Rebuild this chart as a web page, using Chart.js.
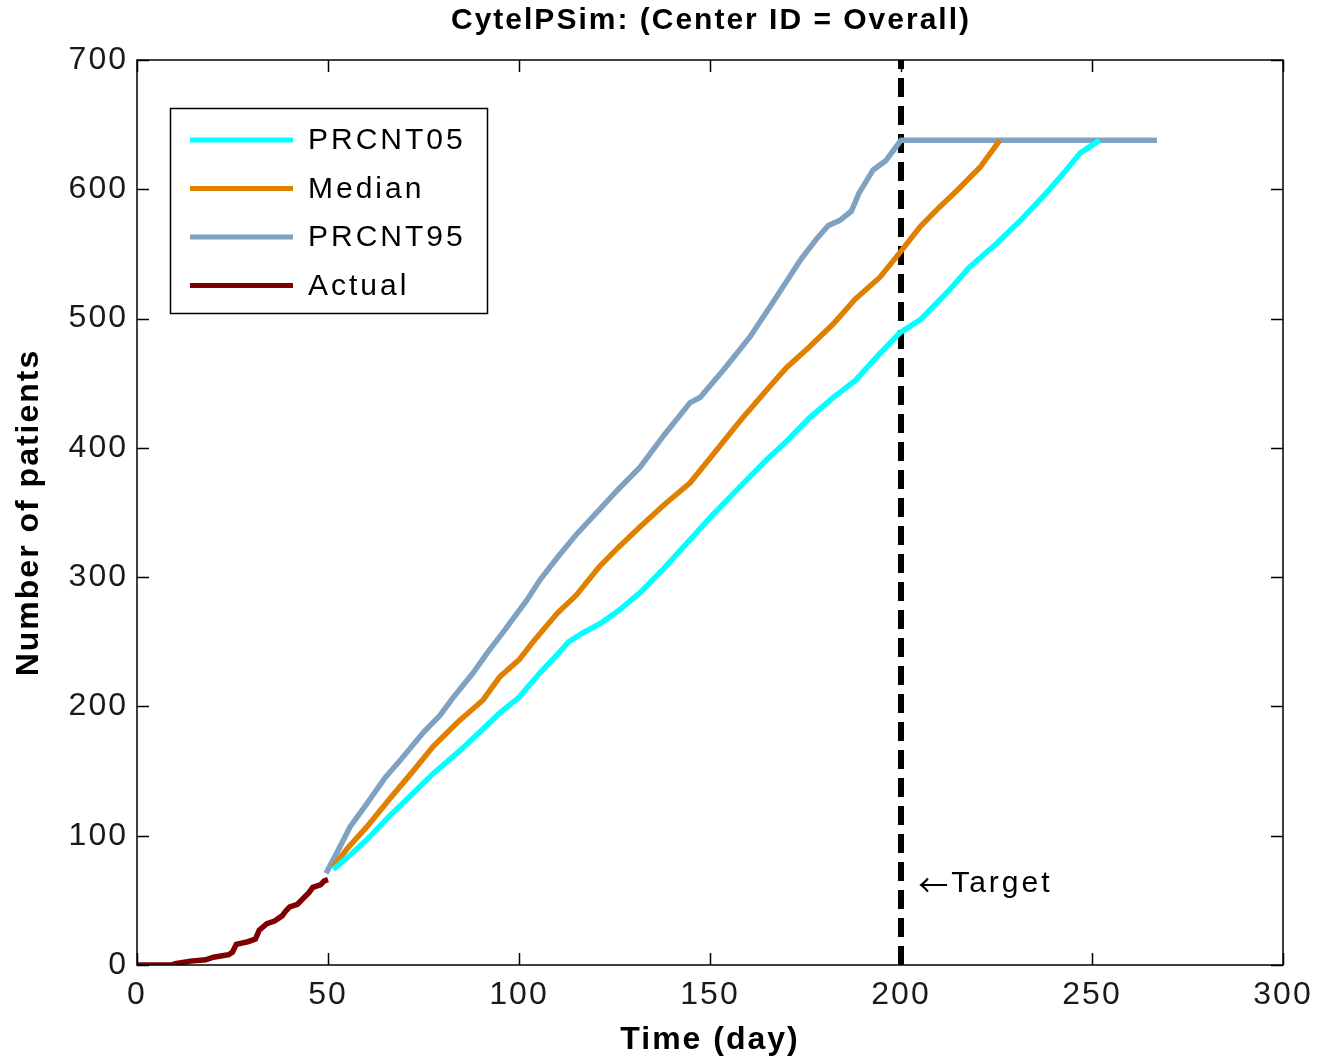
<!DOCTYPE html>
<html><head><meta charset="utf-8">
<script src="https://cdn.jsdelivr.net/npm/chart.js@4/dist/chart.umd.min.js"></script>
<style>html,body{margin:0;padding:0;background:#fff;}canvas{display:block;}</style>
</head><body>
<canvas id="c" width="1320" height="1062"></canvas>
<script>
// ---- text ----
const chartTitle = 'CytelPSim: (Center ID = Overall)';
const xAxisTitle = 'Time (day)';
const yAxisTitle = 'Number of patients';
const targetArrow = '\u2190';
const targetLabel = 'Target';

// ---- ticks ----
const xTickValues = [0, 50, 100, 150, 200, 250, 300];
const yTickValues = [0, 100, 200, 300, 400, 500, 600, 700];

// ---- target ----
const targetDay = 200;
const targetLabelPos = [204.5, 63];

// ---- series ----
const seriesNames = ['PRCNT05', 'Median', 'PRCNT95', 'Actual'];

const p05Days = [51.4,55,60.2,66,72,77.5,84.6,90,95,100,105.5,110,113,116.8,121.2,126,131.7,138,144.8,150,157.9,164.9,170,176,182.3,188,194.5,199.7,205,212,218,225,231,238,243,246.9,252];
const p05Vals = [74,83,97,115,132,148,166,181,195,207,226,240,250,257,264,274,288,307,329,346,370,391,405,423,439,452,473,489,499,520,540,558,575,597,614,628,638];

const medDays = [51.4,55,60.2,66,72,77.5,84,90.6,95,100,103.7,110,115,121,126,131.7,138,144.8,150,157.9,164.9,170,176,182.3,188,194.5,199.7,205,210,215,220.7,225.9];
const medVals = [76,90,107,128,149,169,188,205,223,236,250,272,286,308,323,339,356,373,392,421,445,462,478,496,515,532,551,571,586,600,617,638];

const p95Days = [49.5,52,55.8,60,65,68.8,75,79.3,82.8,88,91.6,96,102,105.5,110,115,121,126,131.7,138,144.8,147.4,154,160.5,167,173.6,178,181,184,187,189,192.7,196,198,200,267];
const p95Vals = [71,85,107,124,145,158,180,193,207,226,241,258,282,298,315,333,352,368,385,410,435,439,462,486,515,545,562,572,576,583,597,615,622,630,638,638];

const actDays = [0,9,10,14,18,20,24,25,26,29,31,32,34,36,38,39,40,42,43,45,46,48,49,50];
const actVals = [0,0,1,3,4,6,8,10,16,18,20,27,32,34,38,42,45,47,50,56,60,62,65,66];

const seriesColors = ['#00FFFF', '#E08000', '#7FA1C2', '#800000'];

const FONT = "'Liberation Sans', Arial, Helvetica, sans-serif";
const toXY = (xs, ys) => xs.map((x, i) => ({x: x, y: ys[i]}));

const spacingPlugin = {
  id: 'spacing',
  beforeLayout(chart) { chart.ctx.letterSpacing = '2px'; },
  beforeDraw(chart) { chart.ctx.letterSpacing = '2px'; }
};

const framePlugin = {
  id: 'frame',
  afterDraw(chart) {
    const {ctx, chartArea: a, scales} = chart;
    ctx.save();
    // title centred over plot area
    ctx.letterSpacing = '2px';
    ctx.fillStyle = '#000';
    ctx.font = 'bold 30px ' + FONT;
    ctx.textAlign = 'center';
    ctx.textBaseline = 'middle';
    ctx.fillText(chartTitle, (a.left + a.right) / 2 + 1, 21);

    ctx.strokeStyle = '#000';
    ctx.lineWidth = 1.5;
    ctx.strokeRect(a.left, a.top, a.right - a.left, a.bottom - a.top);
    const tl = 12;
    ctx.beginPath();
    xTickValues.forEach(v => {
      const px = Math.round(scales.x.getPixelForValue(v)) + 0.5;
      ctx.moveTo(px, a.bottom); ctx.lineTo(px, a.bottom - tl);
      ctx.moveTo(px, a.top); ctx.lineTo(px, a.top + tl);
    });
    yTickValues.forEach(v => {
      const py = Math.round(scales.y.getPixelForValue(v)) + 0.5;
      ctx.moveTo(a.left, py); ctx.lineTo(a.left + tl, py);
      ctx.moveTo(a.right, py); ctx.lineTo(a.right - tl, py);
    });
    ctx.stroke();

    // target label
    ctx.textAlign = 'left';
    ctx.letterSpacing = '0px';
    const tx = scales.x.getPixelForValue(targetLabelPos[0]);
    const ty = scales.y.getPixelForValue(targetLabelPos[1]);
    ctx.font = "30px 'Noto Sans CJK SC', 'DejaVu Sans', sans-serif";
    ctx.fillText(targetArrow, tx, ty + 1);
    ctx.letterSpacing = '3px';
    ctx.font = '30px ' + FONT;
    ctx.fillText(targetLabel, tx + 33, ty);

    // legend
    const bx = a.left + 33, by = a.top + 48, bw = 317, bh = 205;
    ctx.fillStyle = '#fff';
    ctx.fillRect(bx, by, bw, bh);
    ctx.lineWidth = 1.5;
    ctx.strokeStyle = '#000';
    ctx.strokeRect(bx + 0.5, by + 0.5, bw, bh);
    chart.data.datasets.slice(0, 4).forEach((ds, i) => {
      const cy = by + 32 + i * 48.5;
      ctx.strokeStyle = ds.borderColor;
      ctx.lineWidth = 5;
      ctx.beginPath();
      ctx.moveTo(bx + 20, cy); ctx.lineTo(bx + 123, cy);
      ctx.stroke();
      ctx.fillStyle = '#000';
      ctx.fillText(ds.label, bx + 138, cy + 1);
    });
    ctx.restore();
  }
};

const mkDs = (label, data, color) => ({
  label, data, borderColor: color, backgroundColor: color,
  borderWidth: 5.5, pointRadius: 0, tension: 0, fill: false
});

new Chart(document.getElementById('c'), {
  type: 'line',
  data: {
    datasets: [
      mkDs(seriesNames[0], toXY(p05Days, p05Vals), seriesColors[0]),
      mkDs(seriesNames[1], toXY(medDays, medVals), seriesColors[1]),
      mkDs(seriesNames[2], toXY(p95Days, p95Vals), seriesColors[2]),
      mkDs(seriesNames[3], toXY(actDays, actVals), seriesColors[3]),
      {
        label: 'Target', data: [{x: targetDay, y: 0}, {x: targetDay, y: 700}],
        borderColor: '#000', borderWidth: 6, borderDash: [19, 9],
        pointRadius: 0, fill: false
      }
    ]
  },
  options: {
    responsive: false,
    animation: false,
    events: [],
    layout: {padding: {left: 0, right: 37, top: 60, bottom: 0}},
    plugins: {
      legend: {display: false},
      tooltip: {enabled: false},
      title: {display: false}
    },
    scales: {
      x: {
        type: 'linear', min: 0, max: 300,
        afterBuildTicks(s) { s.ticks = xTickValues.map(v => ({value: v})); },
        afterFit(s) { s.height = 97; s.paddingLeft = 0; s.paddingRight = 0; },
        grid: {display: false, drawTicks: false},
        border: {display: false},
        ticks: {color: '#1a1a1a', padding: 11, maxRotation: 0, autoSkip: false,
          font: {family: FONT, size: 32, lineHeight: 1.2}},
        title: {display: true, text: xAxisTitle, color: '#000',
          font: {family: FONT, size: 32, weight: 'bold', lineHeight: 1.2},
          padding: {top: 0, bottom: 3}}
      },
      y: {
        type: 'linear', min: 0, max: 700,
        afterBuildTicks(s) { s.ticks = yTickValues.map(v => ({value: v})); },
        afterFit(s) { s.width = 137; s.paddingTop = 0; s.paddingBottom = 0; },
        grid: {display: false, drawTicks: false},
        border: {display: false},
        ticks: {color: '#1a1a1a', padding: 9, autoSkip: false,
          font: {family: FONT, size: 32, lineHeight: 1.2}},
        title: {display: true, text: yAxisTitle, color: '#000',
          font: {family: FONT, size: 32, weight: 'bold', lineHeight: 1.2},
          padding: {top: 10, bottom: 0}}
      }
    }
  },
  plugins: [spacingPlugin, framePlugin]
});
</script>
</body></html>
